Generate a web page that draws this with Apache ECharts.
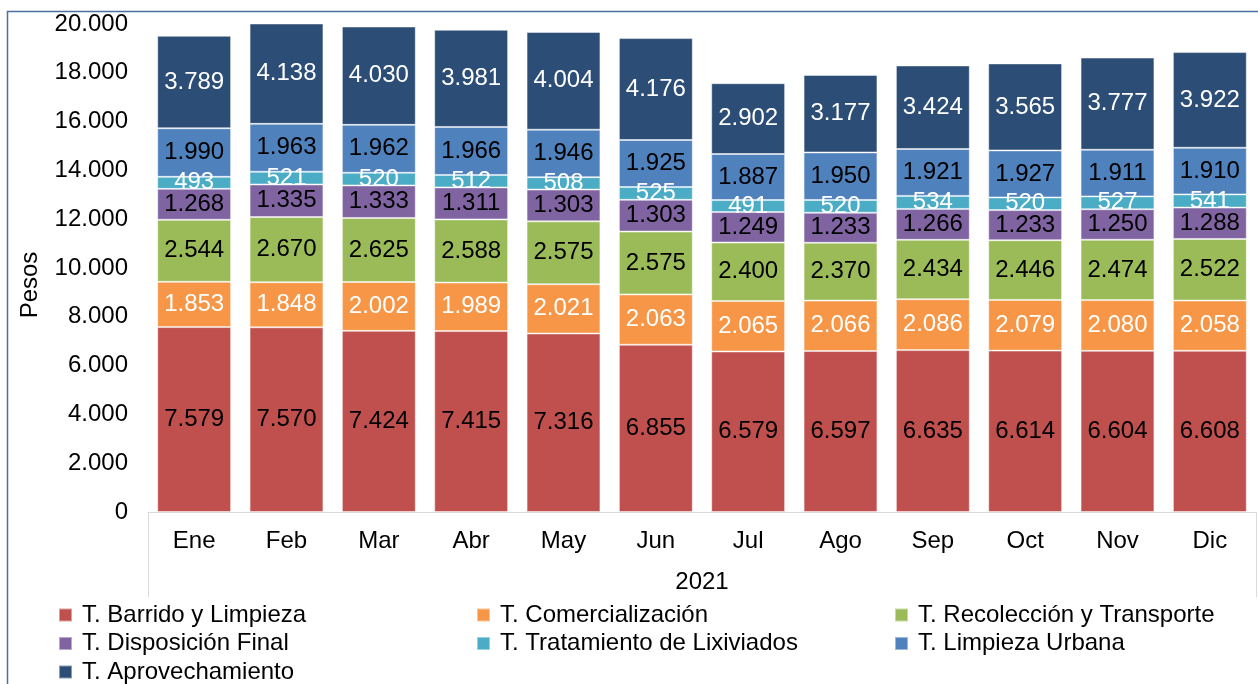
<!DOCTYPE html>
<html>
<head>
<meta charset="utf-8">
<title>Pesos 2021</title>
<script src="https://cdn.jsdelivr.net/npm/echarts@6/dist/echarts.min.js"></script>
<style>
  html, body { margin: 0; padding: 0; background: #fff; }
  #chart { width: 1258px; height: 684px; }
</style>
</head>
<body>
<div id="chart"></div>
<script>
// datos por mes
const months = ['Ene', 'Feb', 'Mar', 'Abr', 'May', 'Jun', 'Jul', 'Ago', 'Sep', 'Oct', 'Nov', 'Dic']
const yearLabel = ['2021']
const yTicks = { min: 0, max: 20000, interval: 2000 }

const barrido = [7579, 7570, 7424, 7415, 7316, 6855, 6579, 6597, 6635, 6614, 6604, 6608]
const comercializacion = [1853, 1848, 2002, 1989, 2021, 2063, 2065, 2066, 2086, 2079, 2080, 2058]
const recoleccion = [2544, 2670, 2625, 2588, 2575, 2575, 2400, 2370, 2434, 2446, 2474, 2522]
const disposicion = [1268, 1335, 1333, 1311, 1303, 1303, 1249, 1233, 1266, 1233, 1250, 1288]
const lixiviados = [493, 521, 520, 512, 508, 525, 491, 520, 534, 520, 527, 541]
const limpiezaUrbana = [1990, 1963, 1962, 1966, 1946, 1925, 1887, 1950, 1921, 1927, 1911, 1910]
const aprovechamiento = [3789, 4138, 4030, 3981, 4004, 4176, 2902, 3177, 3424, 3565, 3777, 3922]

const FONT = "'Liberation Sans', Arial, sans-serif"
const FS = 24

// separador de miles con punto
const fmt = (v) => String(v).replace(/\B(?=(\d{3})+(?!\d))/g, '.')

const seriesDefs = [
  { name: 'T. Barrido y Limpieza', data: barrido, color: '#C0504D', text: '#000' },
  { name: 'T. Comercialización', data: comercializacion, color: '#F79646', text: '#fff' },
  { name: 'T. Recolección y Transporte', data: recoleccion, color: '#9BBB59', text: '#000' },
  { name: 'T. Disposición Final', data: disposicion, color: '#8064A2', text: '#000' },
  { name: 'T. Tratamiento de Lixiviados', data: lixiviados, color: '#4BACC6', text: '#fff' },
  { name: 'T. Limpieza Urbana', data: limpiezaUrbana, color: '#4F81BD', text: '#000' },
  { name: 'T. Aprovechamiento', data: aprovechamiento, color: '#2C4D75', text: '#fff' }
]

const series = seriesDefs.map((s) => ({
  name: s.name,
  type: 'bar',
  stack: 'total',
  data: s.data,
  barCategoryGap: '20%',
  itemStyle: { color: s.color, borderColor: 'rgba(255,255,255,0.45)', borderWidth: 1 },
  label: {
    show: true,
    position: 'inside',
    color: s.text,
    fontFamily: FONT,
    fontSize: FS,
    formatter: (p) => fmt(p.value)
  },
  emphasis: { disabled: true }
}))

const legendBase = {
  orient: 'vertical',
  top: 603,
  height: 120,
  padding: 0,
  icon: 'rect',
  itemWidth: 13,
  itemHeight: 13,
  itemGap: 4.5,
  selectedMode: false,
  textStyle: { fontFamily: FONT, fontSize: FS, color: '#000', lineHeight: 24, padding: [0, 0, 0, 5] }
}

const chart = echarts.init(document.getElementById('chart'))
chart.setOption({
  animation: false,
  color: seriesDefs.map((s) => s.color),
  grid: { left: 148, right: 2, top: 24, bottom: 172 },
  legend: [
    Object.assign({}, legendBase, { left: 58, data: [seriesDefs[0].name, seriesDefs[3].name, seriesDefs[6].name] }),
    Object.assign({}, legendBase, { left: 476, data: [seriesDefs[1].name, seriesDefs[4].name] }),
    Object.assign({}, legendBase, { left: 894, data: [seriesDefs[2].name, seriesDefs[5].name] })
  ],
  xAxis: [
    {
      type: 'category',
      data: months,
      position: 'bottom',
      axisLine: { lineStyle: { color: '#D9D9D9', width: 1 } },
      axisTick: { show: false },
      axisLabel: { color: '#000', fontFamily: FONT, fontSize: FS, margin: 17 }
    },
    {
      type: 'category',
      data: yearLabel,
      position: 'bottom',
      offset: 0,
      axisLine: { show: false },
      axisTick: { show: true, length: 85, lineStyle: { color: '#D9D9D9', width: 1 } },
      axisLabel: { color: '#000', fontFamily: FONT, fontSize: FS, margin: 58 }
    }
  ],
  yAxis: {
    type: 'value',
    min: yTicks.min,
    max: yTicks.max,
    interval: yTicks.interval,
    axisLine: { show: false },
    axisTick: { show: false },
    splitLine: { show: false },
    axisLabel: {
      color: '#000',
      fontFamily: FONT,
      fontSize: FS,
      margin: 20,
      padding: [4, 0, 0, 0],
      formatter: (v) => fmt(v)
    }
  },
  graphic: [
    {
      type: 'rect',
      shape: { x: 7.5, y: 11.5, width: 1400, height: 800 },
      style: { fill: 'none', stroke: '#4A6FA5', lineWidth: 1.5 },
      silent: true
    },
    {
      type: 'text',
      x: 30,
      y: 285,
      rotation: Math.PI / 2,
      style: {
        text: 'Pesos',
        fill: '#000',
        font: FS + 'px ' + FONT,
        textAlign: 'center',
        textVerticalAlign: 'middle'
      },
      silent: true
    }
  ],
  series: series
})
</script>
</body>
</html>
